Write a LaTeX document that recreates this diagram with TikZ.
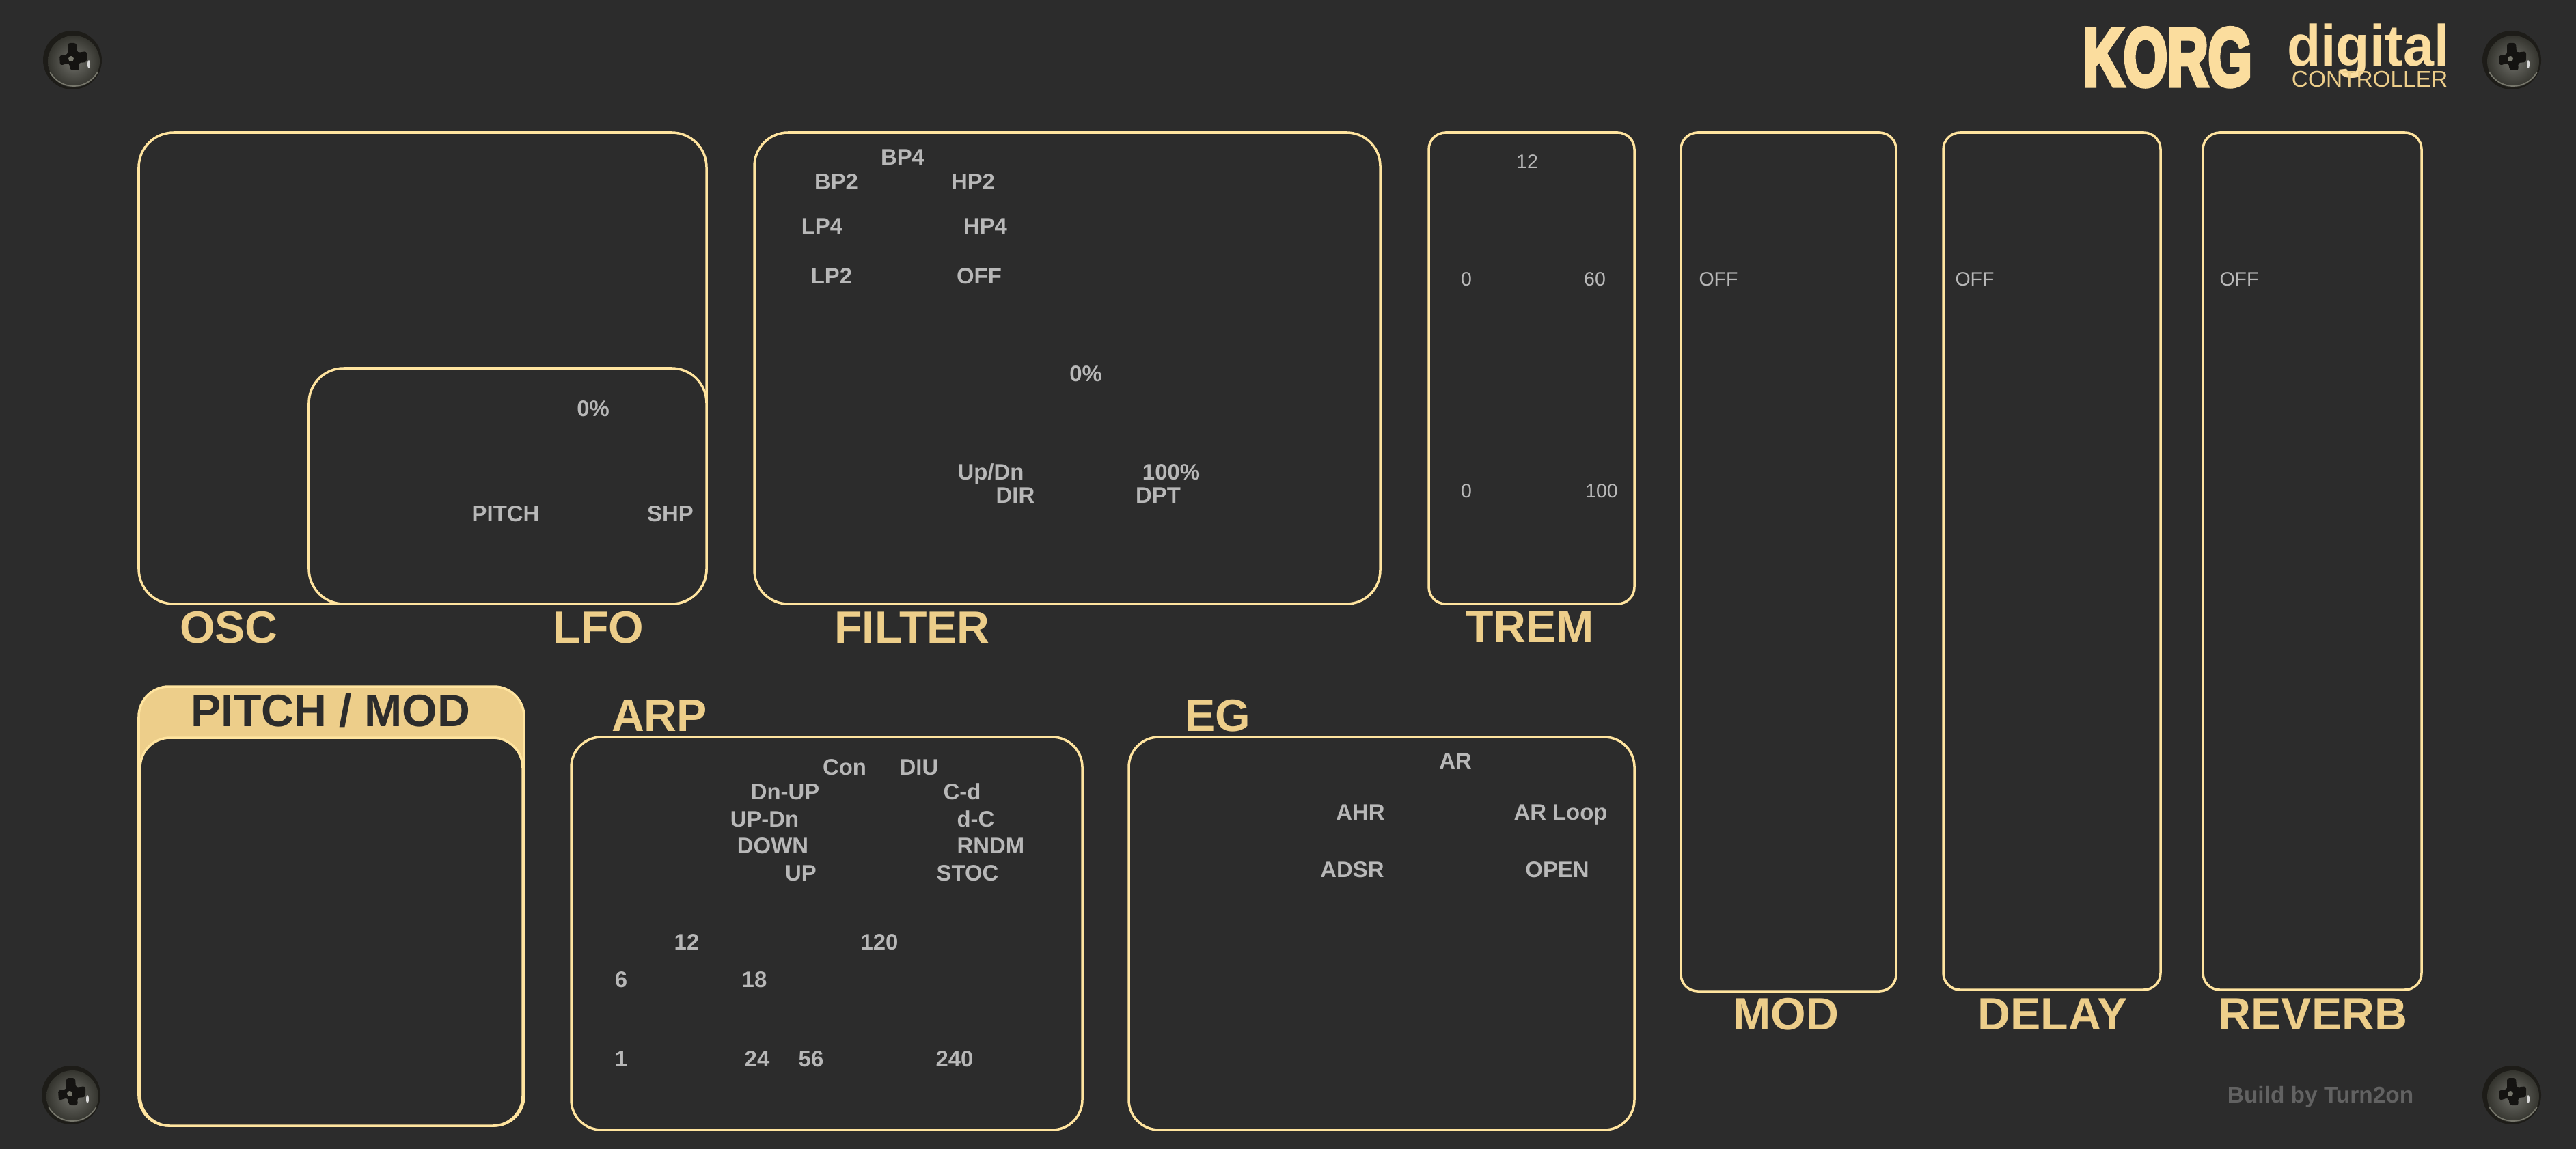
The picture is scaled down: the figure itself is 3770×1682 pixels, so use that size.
\documentclass[tikz,border=0pt]{standalone}
\usepackage{fontspec}
\setmainfont{Liberation Sans}
\newfontfamily\korgfont[FakeBold=6]{Liberation Sans Bold}
\definecolor{panelbg}{HTML}{2C2C2C}
\definecolor{panelline}{HTML}{FFE49F}
\definecolor{headgold}{HTML}{EDCE8A}
\definecolor{logogold}{HTML}{FBDD9E}
\definecolor{labgray}{HTML}{B8B8B8}
\definecolor{signgray}{HTML}{626262}
\definecolor{screwbase}{HTML}{1D1C18}
\definecolor{screwlight}{HTML}{70706A}
\definecolor{screwdark}{HTML}{34342E}
\definecolor{screwslot}{HTML}{141311}
\definecolor{screwrim}{HTML}{77776C}
\tikzset{
  panelbox/.style={draw=panelline,line width=1pt,fill=panelbg},
  headlab/.style={inner sep=0pt,text=headgold,text height=13.5pt,text depth=0pt,font=\fontsize{18.85pt}{21pt}\selectfont\bfseries},
  boldlab/.style={inner sep=0pt,text=labgray,text height=6.6pt,text depth=0pt,font=\fontsize{9.35pt}{11pt}\selectfont\bfseries},
  thinlab/.style={inner sep=0pt,text=labgray,text height=5.8pt,text depth=0pt,font=\fontsize{8.1pt}{10pt}\selectfont},
  screwhead/.pic={
    \fill[screwbase] (0,0) circle (43);
    \shade[inner color=screwlight,outer color=screwdark] (2,2) circle (38);
    \draw[screwrim,line width=0.5pt] (2,-2) ++(150:40) arc[start angle=150,end angle=30,radius=40];
    \fill[screwslot,rounded corners=1pt] (-7,-25) -- (6,-25) -- (7,-11) -- (21,-13) -- (21,3) -- (9,4) -- (10,15) -- (-3,15) -- (-5,4) -- (-18,8) -- (-19,-7) -- (-7,-8) -- cycle;
    \fill[screwrim] (-2,-2) circle (4);
    \fill[white!85!black] (24,6) ellipse (2 and 6);
  }
}
\begin{document}
\begin{tikzpicture}[x=0.01cm,y=-0.01cm]
\useasboundingbox (0,0) rectangle (3770,1682);
\fill[panelbg] (0,0) rectangle (3770,1682);
% panels (radius in pt: 1 px = 0.2845 pt)
\draw[panelbox,rounded corners=14.5pt] (203,194) rectangle (1034,884);
\draw[panelbox,rounded corners=14.5pt] (452,539) rectangle (1034,884);
\draw[panelbox,rounded corners=14pt] (1104,194) rectangle (2020,884);
\draw[panelbox,rounded corners=7pt] (2091,194) rectangle (2392,884);
\draw[panelbox,rounded corners=7pt] (2460,194) rectangle (2775,1451);
\draw[panelbox,rounded corners=7pt] (2844,194) rectangle (3162,1449);
\draw[panelbox,rounded corners=7pt] (3224,194) rectangle (3544,1449);
\draw[panelbox,fill=headgold,rounded corners=12.5pt] (203,1005) rectangle (767,1648);
\draw[panelbox,rounded corners=12.5pt] (205,1080) rectangle (765,1648);
\draw[panelbox,rounded corners=12.5pt] (836,1079) rectangle (1584,1654);
\draw[panelbox,rounded corners=12.5pt] (1652,1079) rectangle (2392,1654);
% headings
\node[headlab] (hosc) at (335,918) {OSC};
\node[headlab] (hlfo) at (876,918) {LFO};
\node[headlab] (hfilter) at (1335,918) {FILTER};
\node[headlab] (htrem) at (2239,917) {TREM};
\node[headlab,text=panelbg] (hpitch) at (484,1040) {PITCH / MOD};
\node[headlab] (harp) at (965,1047) {ARP};
\node[headlab] (heg) at (1782,1047) {EG};
\node[headlab] (hmod) at (2614,1484) {MOD};
\node[headlab] (hdelay) at (3004,1484) {DELAY};
\node[headlab] (hreverb) at (3385,1484) {REVERB};
% filter
\node[boldlab] (fa) at (1321,230) {BP4};
\node[boldlab] (fb) at (1224,266) {BP2};
\node[boldlab] (fc) at (1424,266) {HP2};
\node[boldlab] (fd) at (1203,331) {LP4};
\node[boldlab] (fe) at (1442,331) {HP4};
\node[boldlab] (ff) at (1217,404) {LP2};
\node[boldlab] (fg) at (1433,404) {OFF};
\node[boldlab] (fh) at (1589,547) {0\%};
\node[boldlab] (fi) at (1450,691) {Up/Dn};
\node[boldlab] (fj) at (1714,691) {100\%};
\node[boldlab] (fk) at (1486,725) {DIR};
\node[boldlab] (fl) at (1695,725) {DPT};
% lfo
\node[boldlab] (la) at (868,598) {0\%};
\node[boldlab] (lb) at (740,752) {PITCH};
\node[boldlab] (lc) at (981,752) {SHP};
% trem
\node[thinlab] (ta) at (2235,236) {12};
\node[thinlab] (tb) at (2146,408) {0};
\node[thinlab] (tc) at (2334,408) {60};
\node[thinlab] (td) at (2146,718) {0};
\node[thinlab] (te) at (2344,718) {100};
% off
\node[thinlab] (oa) at (2515,408) {OFF};
\node[thinlab] (ob) at (2890,408) {OFF};
\node[thinlab] (oc) at (3277,408) {OFF};
% arp
\node[boldlab] (aa) at (1236,1123) {Con};
\node[boldlab] (ab) at (1345,1123) {DIU};
\node[boldlab] (ac) at (1149,1159) {Dn-UP};
\node[boldlab] (ad) at (1408,1159) {C-d};
\node[boldlab] (ae) at (1119,1199) {UP-Dn};
\node[boldlab] (af) at (1428,1199) {d-C};
\node[boldlab] (ag) at (1131,1238) {DOWN};
\node[boldlab] (ah) at (1450,1238) {RNDM};
\node[boldlab] (ai) at (1172,1278) {UP};
\node[boldlab] (aj) at (1416,1278) {STOC};
\node[boldlab] (ak) at (1005,1379) {12};
\node[boldlab] (al) at (1287,1379) {120};
\node[boldlab] (am) at (909,1434) {6};
\node[boldlab] (an) at (1104,1434) {18};
\node[boldlab] (ao) at (909,1550) {1};
\node[boldlab] (ap) at (1108,1550) {24};
\node[boldlab] (aq) at (1187,1550) {56};
\node[boldlab] (ar) at (1397,1550) {240};
% eg
\node[boldlab] (ea) at (2130,1114) {AR};
\node[boldlab] (eb) at (1991,1189) {AHR};
\node[boldlab] (ec) at (2284,1189) {AR Loop};
\node[boldlab] (ed) at (1979,1273) {ADSR};
\node[boldlab] (ee) at (2279,1273) {OPEN};
% credit
\node[boldlab,text=signgray,font=\fontsize{9.5pt}{12pt}\selectfont\bfseries] (credit) at (3396,1603) {Build by Turn2on};
% logo
\node[inner sep=0pt,text=logogold,anchor=base] (korg) at (3172,125) {\scalebox{0.69}[1]{\korgfont\fontsize{34pt}{36pt}\selectfont KORG}};
\node[inner sep=0pt,text=logogold,anchor=base] (digital) at (3466,97) {\scalebox{0.95}[1]{\fontsize{24.2pt}{26pt}\selectfont\bfseries digital}};
\node[inner sep=0pt,text=headgold,anchor=base] (ctrl) at (3468,128) {\fontsize{9.5pt}{11pt}\selectfont CONTROLLER};
% screws
\pic at (106,88) {screwhead};
\pic at (3676,88) {screwhead};
\pic at (104,1603) {screwhead};
\pic at (3676,1603) {screwhead};
\end{tikzpicture}
\end{document}
